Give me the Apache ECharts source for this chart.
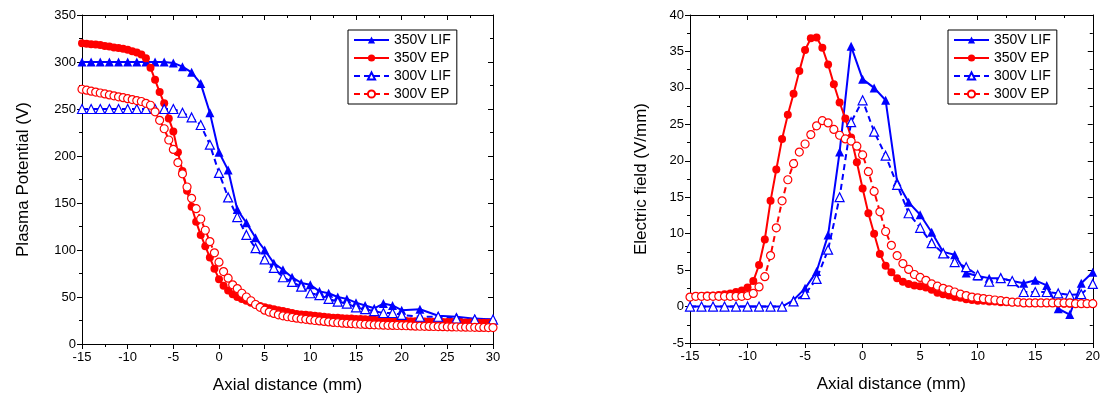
<!DOCTYPE html>
<html>
<head>
<meta charset="utf-8">
<script src="https://cdn.jsdelivr.net/npm/echarts@6/dist/echarts.min.js"></script>
<style>
html,body{margin:0;padding:0;background:#fff;}
#chart{width:1103px;height:400px;}
</style>
</head>
<body>
<div id="chart"></div>
<script>
// ---------- LEFT PANEL: Plasma potential ----------
const leftLifX = [-15,-14,-13,-12,-11,-10,-9,-8,-7,-6,-5,-4,-3,-2,-1,0,1,2,3,4,5,6,7,8,9,10,11,12,13,14,15,16,17,18,19,20,22,24,26,28,30];
const left350LIF = [300,300,300,300,300,300,300,300,300,300,299,295,289,277,246,204,185,143,129,113,100,86,79,71,65,63,56,54,50,48,44,41,38,43,41,36,37,30,29,27,26];
const left300LIF = [250,250,250,250,250,250,250,250,250,250,250,246,241,233,212,182,156,135,116,102,90,81,71,66,61,54,52,48,45,43,39,37,35,33,33,31,29,29,27,26,26];

const leftEpX = [-15,-14.5,-14,-13.5,-13,-12.5,-12,-11.5,-11,-10.5,
  -10,-9.5,-9,-8.5,-8,-7.5,-7,-6.5,-6,-5.5,
  -5,-4.5,-4,-3.5,-3,-2.5,-2,-1.5,-1,-0.5,
  0,0.5,1,1.5,2,2.5,3,3.5,4,4.5,
  5,5.5,6,6.5,7,7.5,8,8.5,9,9.5,
  10,10.5,11,11.5,12,12.5,13,13.5,14,14.5,
  15,15.5,16,16.5,17,17.5,18,18.5,19,19.5,
  20,20.5,21,21.5,22,22.5,23,23.5,24,24.5,
  25,25.5,26,26.5,27,27.5,28,28.5,29,29.5,
  30];
const left350EP = [320,319.5,319,318.5,318,317,316.5,315.5,315,314,
  313,311.5,310,308,304,294,281,268,256,240,
  226,204,184,163,146,130,116,104,92,80,
  69,62,57,53,50,48,46,44,42,40.5,
  39,38,37,36,35,34,33,32,31.5,31,
  30.5,30,29.5,29,28.5,28,27.8,27.5,27.2,27,
  26.7,26.5,26.2,26,25.8,25.6,25.4,25.2,25,24.8,
  24.6,24.5,24.3,24.2,24,23.9,23.8,23.7,23.6,23.5,
  23.4,23.3,23.2,23.1,23,22.9,22.8,22.7,22.6,22.5,
  22.5];
const left300EP = [271,270,269,268,267,266,265,264,263,262,
  261,260,259,258,256,254,247,238,229,217,
  207,193,181,167,155,144,133,121,109,97,
  87,77,70,63,59,54,50,46,42,39,
  36,34,32.5,31,30,29,28.2,27.5,26.8,26.2,
  25.6,25,24.5,24,23.5,23,22.6,22.2,21.9,21.6,
  21.3,21,20.8,20.6,20.4,20.2,20,19.9,19.8,19.7,
  19.6,19.4,19.2,19,18.9,18.8,18.7,18.6,18.5,18.4,
  18.3,18.2,18.1,18,17.9,17.8,17.7,17.6,17.6,17.5,
  17.5];

// ---------- RIGHT PANEL: Electric field ----------
const rightLifX = [-15,-14,-13,-12,-11,-10,-9,-8,-7,-6,-5,-4,-3,-2,-1,0,1,2,3,4,5,6,7,8,9,10,11,12,13,14,15,16,17,18,19,20];
const right350LIF = [0,0,0,0,0,0,0,0,0,0.9,2.5,4.8,9.8,21.2,35.7,31.2,30,28.3,17.1,14.3,12.6,10.2,7.5,7.1,4.6,4.2,3.9,3.9,3.5,3.2,3.6,2.9,-0.3,-1.1,3.2,4.7];
const right300LIF = [0,0,0,0,0,0,0,0,0,0.7,1.7,3.8,7.8,15.0,25.3,28.3,24.0,20.7,16.7,12.8,10.8,8.7,7.3,6.1,5.4,4.3,3.4,3.9,3.5,2.0,2.0,2.0,1.8,1.6,1.7,3.1];

const rightEpX = [-15,-14.5,-14,-13.5,-13,-12.5,-12,-11.5,-11,-10.5,
  -10,-9.5,-9,-8.5,-8,-7.5,-7,-6.5,-6,-5.5,
  -5,-4.5,-4,-3.5,-3,-2.5,-2,-1.5,-1,-0.5,
  0,0.5,1,1.5,2,2.5,3,3.5,4,4.5,
  5,5.5,6,6.5,7,7.5,8,8.5,9,9.5,
  10,10.5,11,11.5,12,12.5,13,13.5,14,14.5,
  15,15.5,16,16.5,17,17.5,18,18.5,19,19.5,
  20];
const right350EP = [1.3,1.4,1.4,1.5,1.5,1.6,1.7,1.8,2.0,2.2,
  2.6,3.5,5.7,9.2,14.5,18.8,23.0,26.3,29.2,32.3,
  35.2,36.8,36.9,35.5,33.2,30.5,28.0,25.8,23.2,19.8,
  16.2,12.8,10.0,7.2,5.6,4.7,3.9,3.4,3.1,2.9,
  2.8,2.6,2.3,1.9,1.7,1.5,1.3,1.2,1.0,0.9,
  0.8,0.8,0.7,0.7,0.6,0.6,0.6,0.6,0.5,0.5,
  0.5,0.5,0.5,0.5,0.5,0.4,0.4,0.4,0.4,0.4,
  0.4];
const right300EP = [1.3,1.4,1.4,1.4,1.4,1.4,1.4,1.4,1.4,1.4,
  1.5,1.8,2.7,4.1,7.0,10.8,14.5,17.4,19.6,21.2,
  22.3,23.6,24.8,25.5,25.2,24.3,23.5,23.0,22.7,22.0,
  20.8,18.5,15.8,13.0,10.3,8.4,7.0,5.9,5.1,4.4,
  4.0,3.6,3.1,2.8,2.5,2.3,2.0,1.7,1.5,1.3,
  1.2,1.1,1.0,0.9,0.8,0.7,0.6,0.6,0.5,0.5,
  0.5,0.5,0.5,0.5,0.5,0.5,0.5,0.4,0.4,0.4,
  0.4];

const seriesNames = ['350V LIF','350V EP','300V LIF','300V EP'];
const leftTicks = {xMin:-15, xMax:30, xInt:5, yMin:0, yMax:350, yInt:50};
const rightTicks = {xMin:-15, xMax:20, xInt:5, yMin:-5, yMax:40, yInt:5};

// ---------- build ----------
const BLUE = '#0000ff', RED = '#ff0000';
const FONT = 'Liberation Sans, Arial, sans-serif';
const zip = (xs, ys) => xs.map((x, i) => [x, ys[i]]);

function mkSeries(name, data, idx, kind) {
  const blue = kind.indexOf('LIF') >= 0;
  const filled = kind.indexOf('350') >= 0;
  const col = blue ? BLUE : RED;
  return {
    name: name, type: 'line', xAxisIndex: idx * 2, yAxisIndex: idx * 2,
    data: data,
    symbol: blue ? 'triangle' : 'circle',
    symbolSize: blue ? 9 : 8,
    showAllSymbol: true,
    animation: false,
    lineStyle: {color: col, width: 2, type: filled ? 'solid' : [6, 4]},
    itemStyle: filled ? {color: col} : {color: '#ffffff', borderColor: col, borderWidth: 1.2},
    emphasis: {disabled: true}
  };
}

function bottomX(gi, t) {
  return {
    gridIndex: gi, type: 'value', position: 'bottom', min: t.xMin, max: t.xMax, interval: t.xInt,
    name: 'Axial distance (mm)', nameLocation: 'middle', nameGap: 33,
    nameTextStyle: {fontFamily: FONT, fontSize: 17, color: '#000'},
    axisLine: {onZero: false, lineStyle: {color: '#000', width: 1}},
    axisTick: {inside: false, length: 5, lineStyle: {color: '#000'}},
    minorTick: {show: true, splitNumber: 2, length: 3, lineStyle: {color: '#000'}},
    axisLabel: {fontFamily: FONT, fontSize: 13, color: '#000', margin: 7},
    splitLine: {show: false}, minorSplitLine: {show: false}
  };
}
function topX(gi, t) {
  return {
    gridIndex: gi, type: 'value', position: 'top', min: t.xMin, max: t.xMax, interval: t.xInt,
    axisLine: {onZero: false, lineStyle: {color: '#000', width: 1}},
    axisTick: {inside: true, length: 5, lineStyle: {color: '#000'}},
    minorTick: {show: true, splitNumber: 2, length: 3, lineStyle: {color: '#000'}},
    axisLabel: {show: false}, splitLine: {show: false}
  };
}
function leftY(gi, t, title, gap) {
  return {
    gridIndex: gi, type: 'value', position: 'left', min: t.yMin, max: t.yMax, interval: t.yInt,
    name: title, nameLocation: 'middle', nameGap: gap,
    nameTextStyle: {fontFamily: FONT, fontSize: 17, color: '#000'},
    axisLine: {onZero: false, lineStyle: {color: '#000', width: 1}},
    axisTick: {inside: false, length: 5, lineStyle: {color: '#000'}},
    minorTick: {show: true, splitNumber: 2, length: 3, lineStyle: {color: '#000'}},
    axisLabel: {fontFamily: FONT, fontSize: 13, color: '#000', margin: 6},
    splitLine: {show: false}, minorSplitLine: {show: false}
  };
}
function rightY(gi, t) {
  return {
    gridIndex: gi, type: 'value', position: 'right', min: t.yMin, max: t.yMax, interval: t.yInt,
    axisLine: {onZero: false, lineStyle: {color: '#000', width: 1}},
    axisTick: {inside: true, length: 5, lineStyle: {color: '#000'}},
    minorTick: {show: true, splitNumber: 2, length: 3, lineStyle: {color: '#000'}},
    axisLabel: {show: false}, splitLine: {show: false}
  };
}
function legendAt(left) {
  return {
    data: seriesNames, orient: 'vertical', left: left, top: 30,
    itemWidth: 35, itemHeight: 9, itemGap: 4, padding: [3, 6, 3, 5],
    borderColor: '#000', borderWidth: 1, backgroundColor: '#fff',
    textStyle: {fontFamily: FONT, fontSize: 14, color: '#000'},
    selectedMode: false
  };
}

const chart = echarts.init(document.getElementById('chart'), null, {renderer: 'canvas'});
chart.setOption({
  animation: false,
  backgroundColor: '#fff',
  grid: [
    {left: 82, top: 15, width: 411, height: 329},
    {left: 690, top: 15, width: 405, height: 328}
  ],
  xAxis: [bottomX(0, leftTicks), topX(0, leftTicks), bottomX(1, rightTicks), topX(1, rightTicks)],
  yAxis: [leftY(0, leftTicks, 'Plasma Potential (V)', 50), rightY(0, leftTicks),
          leftY(1, rightTicks, 'Electric field (V/mm)', 40), rightY(1, rightTicks)],
  legend: [legendAt(348), legendAt(948)],
  series: [
    mkSeries('350V LIF', zip(leftLifX, left350LIF), 0, '350LIF'),
    mkSeries('350V EP', zip(leftEpX, left350EP), 0, '350EP'),
    mkSeries('300V LIF', zip(leftLifX, left300LIF), 0, '300LIF'),
    mkSeries('300V EP', zip(leftEpX, left300EP), 0, '300EP'),
    mkSeries('350V LIF', zip(rightLifX, right350LIF), 1, '350LIF'),
    mkSeries('350V EP', zip(rightEpX, right350EP), 1, '350EP'),
    mkSeries('300V LIF', zip(rightLifX, right300LIF), 1, '300LIF'),
    mkSeries('300V EP', zip(rightEpX, right300EP), 1, '300EP')
  ]
});
</script>
</body>
</html>
